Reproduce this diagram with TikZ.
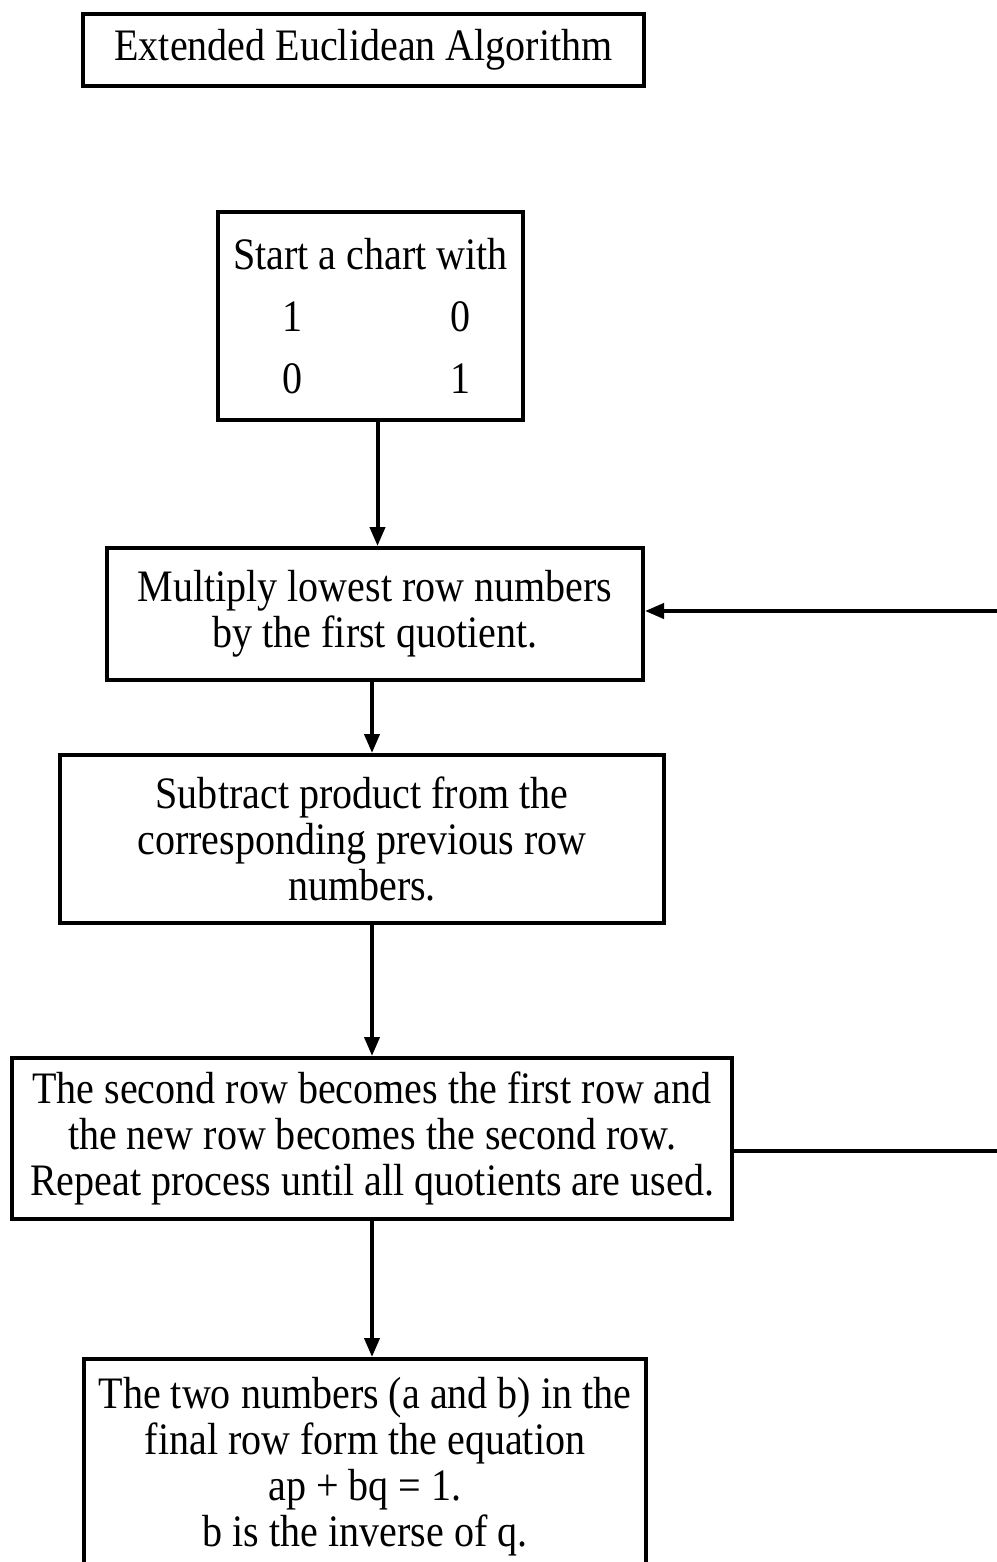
\documentclass[tikz,border=0pt]{standalone}
\usepackage{fontspec}
\setmainfont{Liberation Serif}[FakeStretch=0.89]
\usepackage{tikz}
\usetikzlibrary{arrows.meta,positioning,calc}

\begin{document}
\begin{tikzpicture}[x=1pt, y=-1pt,
    chartbox/.style={draw, line width=4pt, inner sep=0pt, align=center,
        font=\fontsize{45}{46}\selectfont},
    flow/.style={line width=4pt, -{Triangle[width=15pt,length=19pt]}}]

    \useasboundingbox (0,0) rectangle (996,1562);

    % ---------------- Title ----------------
    \node[chartbox, minimum width=561pt, minimum height=72pt] (title) at (363.5,50) {Extended Euclidean Algorithm};

    % ---------------- Steps ----------------
    \node[chartbox, minimum width=305pt, minimum height=208pt] (start) at (370.5,316)
        {Start a chart with\\[16pt]\hspace*{12pt}1\hspace{148pt}0\\[16pt]\hspace*{12pt}0\hspace{148pt}1};
    \node[chartbox, minimum width=536pt, minimum height=132pt] (multiply) at (375,614)
        {Multiply lowest row numbers\\by the first quotient.};
    \node[chartbox, minimum width=604pt, minimum height=168pt] (subtract) at (362,839)
        {Subtract product from the\\corresponding previous row\\numbers.};
    \node[chartbox, minimum width=720pt, minimum height=161pt] (shift) at (372,1138.5)
        {The second row becomes the first row and\\the new row becomes the second row.\\Repeat process until all quotients are used.};
    \node[chartbox, minimum width=562pt, minimum height=216pt] (final) at (365,1467)
        {The two numbers (a and b) in the\\final row form the equation\\ap + bq = 1.\\b is the inverse of q.};

    % ---------------- Arrows ----------------
    \draw[flow] ([xshift=7pt]start.south) -- ([xshift=7pt]start.south |- multiply.north);
    \draw[flow] ([xshift=-3pt]multiply.south) -- ([xshift=-3pt]multiply.south |- subtract.north);
    \draw[flow] (shift.north |- subtract.south) -- (shift.north);
    \draw[flow] (shift.south) -- (shift.south |- final.north);

    % ---------------- Loop back ----------------
    \coordinate (loopout) at (1000,1151);
    \coordinate (loopin) at (1000,611);
    \draw[line width=4pt] ([yshift=-12.5pt]shift.east) -- (loopout);
    \draw[flow] (loopin) -- (multiply.east |- loopin);

\end{tikzpicture}
\end{document}
